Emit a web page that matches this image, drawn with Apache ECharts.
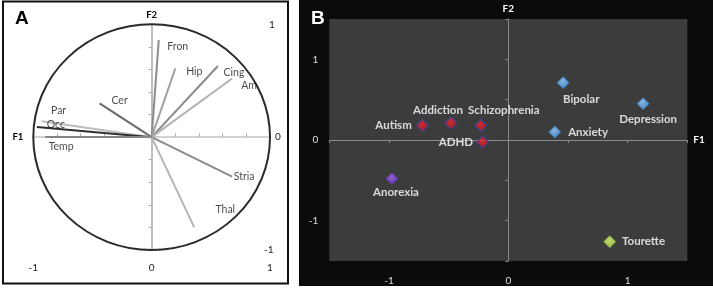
<!DOCTYPE html>
<html>
<head>
<meta charset="utf-8">
<script src="https://cdn.jsdelivr.net/npm/echarts@6/dist/echarts.min.js"></script>
<style>
  html, body { margin: 0; padding: 0; background: #fff; }
  #chart { width: 713px; height: 290px; }
</style>
</head>
<body>
<div id="chart"></div>
<script>
// panel A: loadings of brain regions on F1 / F2
var regions = ['Fron', 'Hip', 'Cing', 'Am', 'Cer', 'Par', 'Occ', 'Temp', 'Stria', 'Thal'];
var regionF1 = [0.06, 0.20, 0.56, 0.68, -0.44, -0.93, -0.97, -0.90, 0.68, 0.36];
var regionF2 = [0.86, 0.61, 0.63, 0.52, 0.30, 0.14, 0.09, 0.00, -0.35, -0.80];

// panel B: disorders projected on F1 / F2
var disorders = ['Autism', 'Addiction', 'Schizophrenia', 'ADHD', 'Bipolar', 'Depression', 'Anxiety', 'Anorexia', 'Tourette'];
var disorderF1 = [-0.72, -0.48, -0.23, -0.215, 0.46, 1.13, 0.39, -0.975, 0.85];
var disorderF2 = [0.18, 0.21, 0.18, -0.025, 0.71, 0.45, 0.10, -0.48, -1.26];
var disorderGroup = [0, 0, 0, 0, 1, 1, 1, 2, 3];

var tickLabelsA = [-1, 0, 1];
var tickLabelsB = [-1, 0, 1];

// styles
var vecColors = ['#8c8c8c', '#a2a2a2', '#8a8a8a', '#b2b2b2', '#6a6a6a', '#bdbdbd', '#2e2e2e', '#858585', '#8c8c8c', '#b5b5b5'];
var vecLabelOffset = {
    Fron: [19, 7], Hip: [19, 3], Cing: [16, 7], Am: [17, 7], Cer: [20, -3],
    Par: [17, -11], Occ: [19, -2], Temp: [16, 9], Stria: [12, 0], Thal: [31, -18]
};
var groupColors = [
    ['#ee2a30', '#c00c18'],
    ['#9fd4ff', '#3a96ee'],
    ['#a070ee', '#6a2ec8'],
    ['#e6ff8a', '#a8d83a']
];
var dotLabel = {
    Autism: {position: 'left', distance: 4},
    Addiction: {position: 'inside', offset: [-13, -13]},
    Schizophrenia: {position: 'inside', offset: [23, -15]},
    ADHD: {position: 'left', distance: 3},
    Bipolar: {position: 'inside', offset: [18, 17]},
    Depression: {position: 'inside', offset: [5, 16]},
    Anxiety: {position: 'right', distance: 7},
    Anorexia: {position: 'inside', offset: [4, 14]},
    Tourette: {position: 'right', distance: 6}
};

var font = 'Lato, "Liberation Sans", sans-serif';

var vecLines = [];
var vecEnds = [];
for (var i = 0; i < regions.length; i++) {
    vecLines.push({
        coords: [[0, 0], [regionF1[i], regionF2[i]]],
        lineStyle: {color: vecColors[i], width: 2, opacity: 1}
    });
    vecEnds.push({
        name: regions[i],
        value: [regionF1[i], regionF2[i]],
        label: {offset: vecLabelOffset[regions[i]]}
    });
}

var dots = [];
for (var j = 0; j < disorders.length; j++) {
    var gc = groupColors[disorderGroup[j]];
    var lb = dotLabel[disorders[j]];
    dots.push({
        name: disorders[j],
        value: [disorderF1[j], disorderF2[j]],
        itemStyle: {
            color: new echarts.graphic.RadialGradient(0.45, 0.4, 0.6, [
                {offset: 0, color: gc[0]}, {offset: 1, color: gc[1]}
            ]),
            borderColor: disorderGroup[j] === 0 ? '#3848a8' : gc[1],
            borderWidth: disorderGroup[j] === 0 ? 1.2 : 0.6
        },
        label: lb
    });
}

function onlyTicks(list) {
    return function (v) {
        for (var k = 0; k < list.length; k++) {
            if (Math.abs(list[k] - v) < 1e-6) return String(list[k]);
        }
        return '';
    };
}

var myChart = echarts.init(document.getElementById('chart'));
var option = {
    animation: false,
    backgroundColor: '#ffffff',
    textStyle: {fontFamily: font},
    graphic: [
        {type: 'rect', z: -5, shape: {x: 3, y: 1.5, width: 285, height: 282},
            style: {fill: '#ffffff', stroke: '#111', lineWidth: 2}},
        {type: 'rect', z: -5, shape: {x: 299, y: 0, width: 414, height: 286},
            style: {fill: '#0b0b0b'}}
    ],
    title: [
        {text: 'A', left: 10, top: 4, textStyle: {fontSize: 19, fontWeight: 'bold', color: '#000', fontFamily: '"Liberation Sans", sans-serif'}},
        {text: 'B', left: 306, top: 4, textStyle: {fontSize: 19, fontWeight: 'bold', color: '#fff', fontFamily: '"Liberation Sans", sans-serif'}}
    ],
    grid: [
        {left: 33.3, right: 443, top: 24.3, bottom: 40},
        {left: 329.3, right: 25.7, top: 19, bottom: 29, show: true, backgroundColor: '#3c3c3c', borderWidth: 0}
    ],
    xAxis: [
        {   // A: axis through origin
            gridIndex: 0, type: 'value', min: -1, max: 1, interval: 0.2,
            name: 'F1', nameLocation: 'start', nameGap: 10,
            nameTextStyle: {fontWeight: 'bold', fontSize: 9.5, color: '#000'},
            axisLine: {onZero: true, lineStyle: {color: '#c4c4c4', width: 1.5}},
            axisTick: {show: true, inside: true, length: 4, lineStyle: {color: '#b0b0b0'}},
            axisLabel: {show: false}, splitLine: {show: false}
        },
        {   // A: bottom labels
            gridIndex: 0, type: 'value', min: -1, max: 1, interval: 1, position: 'bottom',
            axisLine: {show: false, onZero: false}, axisTick: {show: false}, splitLine: {show: false},
            axisLabel: {margin: 13, fontSize: 10, color: '#222', formatter: onlyTicks(tickLabelsA)}
        },
        {   // B: axis through origin
            gridIndex: 1, type: 'value', min: -1.5, max: 1.5, interval: 0.5,
            name: 'F1', nameLocation: 'end', nameGap: 6,
            nameTextStyle: {fontWeight: 'bold', fontSize: 10, color: '#fff'},
            axisLine: {onZero: true, lineStyle: {color: '#8a8a8a', width: 1}},
            axisTick: {show: true, length: 3, lineStyle: {color: '#8a8a8a'}},
            axisLabel: {show: false}, splitLine: {show: false}
        },
        {   // B: bottom labels
            gridIndex: 1, type: 'value', min: -1.5, max: 1.5, interval: 0.5, position: 'bottom',
            axisLine: {show: false, onZero: false}, axisTick: {show: false}, splitLine: {show: false},
            axisLabel: {margin: 15, fontSize: 10, color: '#dcdcdc', formatter: onlyTicks(tickLabelsB)}
        }
    ],
    yAxis: [
        {
            gridIndex: 0, type: 'value', min: -1, max: 1, interval: 0.2,
            name: 'F2', nameLocation: 'end', nameGap: 4,
            nameTextStyle: {fontWeight: 'bold', fontSize: 9.5, color: '#000'},
            axisLine: {onZero: true, lineStyle: {color: '#a8a8a8', width: 1.5}},
            axisTick: {show: true, length: 3, lineStyle: {color: '#a8a8a8'}},
            axisLabel: {show: false}, splitLine: {show: false}
        },
        {
            gridIndex: 0, type: 'value', min: -1, max: 1, interval: 1, position: 'right',
            axisLine: {show: false, onZero: false}, axisTick: {show: false}, splitLine: {show: false},
            axisLabel: {
                margin: -6, align: 'left', fontSize: 10, color: '#222',
                formatter: function (v) {
                    if (v === 1) return '{a|1}';
                    if (v === 0) return '{b|0}';
                    if (v === -1) return '{c|-1}';
                    return '';
                },
                rich: {
                    a: {padding: [0, 0, 0, 5], fontSize: 10, color: '#222'},
                    b: {padding: [0, 0, 0, 11], fontSize: 10, color: '#222'},
                    c: {padding: [0, 0, 0, 0], fontSize: 10, color: '#222'}
                }
            }
        },
        {
            gridIndex: 1, type: 'value', min: -1.5, max: 1.5, interval: 0.5,
            name: 'F2', nameLocation: 'end', nameGap: 5,
            nameTextStyle: {fontWeight: 'bold', fontSize: 10, color: '#fff'},
            axisLine: {onZero: true, lineStyle: {color: '#8a8a8a', width: 1}},
            axisTick: {show: true, length: 3, lineStyle: {color: '#8a8a8a'}},
            axisLabel: {show: false}, splitLine: {show: false}
        },
        {
            gridIndex: 1, type: 'value', min: -1.5, max: 1.5, interval: 0.5, position: 'left',
            axisLine: {show: false, onZero: false}, axisTick: {show: false}, splitLine: {show: false},
            axisLabel: {margin: 11, fontSize: 10, color: '#dcdcdc', formatter: onlyTicks(tickLabelsB)}
        }
    ],
    series: [
        {   // unit circle
            type: 'custom', xAxisIndex: 0, yAxisIndex: 0, silent: true, z: 3,
            data: [[0, 0, 1]],
            renderItem: function (params, api) {
                var c = api.coord([api.value(0), api.value(1)]);
                var s = api.size([api.value(2), api.value(2)]);
                return {
                    type: 'circle',
                    shape: {cx: c[0], cy: c[1], r: s[0]},
                    scaleY: s[1] / s[0], originX: c[0], originY: c[1],
                    style: {fill: 'none', stroke: '#2a2a2a', lineWidth: 2}
                };
            }
        },
        {
            type: 'lines', coordinateSystem: 'cartesian2d', xAxisIndex: 0, yAxisIndex: 0,
            silent: true, z: 4, data: vecLines
        },
        {
            type: 'scatter', xAxisIndex: 0, yAxisIndex: 0, symbolSize: 0, silent: true, z: 5,
            data: vecEnds,
            label: {show: true, position: 'inside', formatter: '{b}', fontSize: 10.5, color: '#1a1a1a', fontFamily: font}
        },
        {
            type: 'scatter', xAxisIndex: 2, yAxisIndex: 2, symbol: 'diamond', symbolSize: 12, z: 5,
            data: dots,
            label: {show: true, formatter: '{b}', fontSize: 11.5, fontWeight: 'bold', color: '#fff', fontFamily: font}
        }
    ]
};
myChart.setOption(option);
</script>
</body>
</html>
